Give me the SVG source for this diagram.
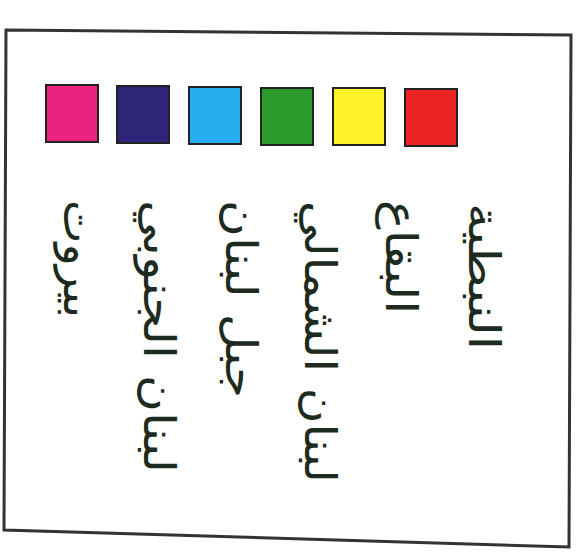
<svg xmlns="http://www.w3.org/2000/svg" width="579" height="556" viewBox="0 0 579 556">
<style>
.sw{stroke:#222;stroke-width:2}
.lb{font-family:"DejaVu Sans",sans-serif;font-size:44px;fill:#1c2a20}
</style>
<rect width="579" height="556" fill="#fff"/>
<polygon points="6,30 571,35 569,547 4,530" fill="#fff" stroke="#333" stroke-width="3"/>
<g id="nabatieh">
<rect class="sw" x="405" y="89" width="52" height="57" fill="#ec2424"/>
<text class="lb" transform="translate(469,203) rotate(90)" textLength="147" lengthAdjust="spacingAndGlyphs">النبطية</text>
</g>
<g id="bekaa">
<rect class="sw" x="333" y="88" width="52" height="57" fill="#fff22a"/>
<text class="lb" transform="translate(386,200) rotate(90)" textLength="114" lengthAdjust="spacingAndGlyphs">البقاع</text>
</g>
<g id="north-lebanon">
<rect class="sw" x="261" y="88" width="52" height="57" fill="#2d9a2c"/>
<text class="lb" transform="translate(305,201) rotate(90)" textLength="282" lengthAdjust="spacingAndGlyphs">لبنان الشمالي</text>
</g>
<g id="mount-lebanon">
<rect class="sw" x="189" y="87" width="52" height="57" fill="#26aef0"/>
<text class="lb" transform="translate(226,200) rotate(90)" textLength="198" lengthAdjust="spacingAndGlyphs">جبل لبنان</text>
</g>
<g id="south-lebanon">
<rect class="sw" x="117" y="86" width="52" height="57" fill="#2e2478"/>
<text class="lb" transform="translate(144,200) rotate(90)" textLength="273" lengthAdjust="spacingAndGlyphs">لبنان الجنوبي</text>
</g>
<g id="beirut">
<rect class="sw" x="46" y="85" width="52" height="57" fill="#e9247f"/>
<text class="lb" transform="translate(64,200) rotate(90)" textLength="118" lengthAdjust="spacingAndGlyphs">بيروت</text>
</g>
</svg>
